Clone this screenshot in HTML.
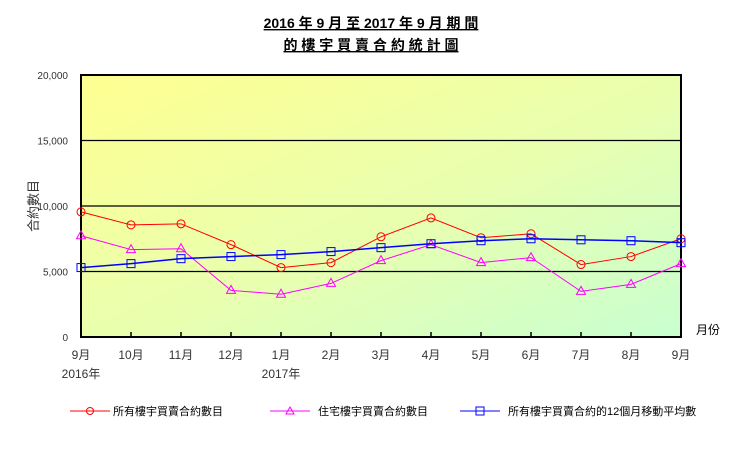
<!DOCTYPE html>
<html><head><meta charset="utf-8"><style>
body{margin:0;background:#fff;width:756px;height:453px;overflow:hidden;font-family:"Liberation Sans","Noto Sans CJK TC",sans-serif}
</style></head><body>
<svg width="756" height="453" style="position:absolute;left:0;top:0">
<defs><linearGradient id="bg" x1="0" y1="0" x2="1" y2="1">
<stop offset="0" stop-color="#ffff90"/><stop offset="0.55" stop-color="#e8ffb0"/><stop offset="1" stop-color="#c8ffd0"/></linearGradient></defs>
<text x="371" y="28" text-anchor="middle" font-size="14" font-weight="bold" text-decoration="underline" font-family="Liberation Sans,Noto Sans CJK TC,sans-serif">2016 年 9 月 至 2017 年 9 月 期 間</text>
<text x="371" y="50" text-anchor="middle" font-size="14" font-weight="bold" text-decoration="underline" font-family="Liberation Sans,Noto Sans CJK TC,sans-serif">的 樓 宇 買 賣 合 約 統 計 圖</text>
<rect x="81" y="75" width="600" height="262" fill="url(#bg)" stroke="#000" stroke-width="2"/>
<g id="grid"></g><g id="axes"></g><g id="series"></g>
<text transform="translate(38,206) rotate(-90)" text-anchor="middle" font-size="13" fill="#333">合約數目</text>
<text x="696" y="334" font-size="12">月份</text>
<g font-size="11">
<line x1="70" y1="411" x2="110" y2="411" stroke="red"/><circle cx="90" cy="411" r="3.5" fill="none" stroke="red"/>
<text x="113" y="415">所有樓宇買賣合約數目</text>
<line x1="270" y1="411" x2="310" y2="411" stroke="#f0f"/><path d="M290 407 L294 414 L286 414 Z" fill="none" stroke="#f0f"/>
<text x="318" y="415">住宅樓宇買賣合約數目</text>
<line x1="460" y1="411" x2="500" y2="411" stroke="#00f"/><rect x="476" y="407" width="8" height="8" fill="none" stroke="#00f"/>
<text x="508" y="415">所有樓宇買賣合約的12個月移動平均數</text>
</g>
</svg>
<script>
const categories=["9月","10月","11月","12月","1月","2月","3月","4月","5月","6月","7月","8月","9月"];
const yearLabels=["2016年","","","","2017年","","","","","","","",""];
const allContracts=[9550,8560,8640,7050,5300,5680,7650,9090,7580,7880,5530,6140,7500];
const residential=[7730,6670,6740,3560,3260,4090,5830,7050,5680,6060,3480,4020,5600];
const movingAvg=[5300,5600,5980,6140,6290,6520,6820,7120,7350,7500,7420,7350,7200];
const yTicks=[0,5000,10000,15000,20000];
const NS="http://www.w3.org/2000/svg";
const X0=81,X1=681,Y0=337,Y1=75,YMAX=20000;
const xs=i=>X0+i*(X1-X0)/(categories.length-1);
const ys=v=>Y0-v/YMAX*(Y0-Y1);
function mk(t,a,p){const e=document.createElementNS(NS,t);for(const k in a)e.setAttribute(k,a[k]);p.appendChild(e);return e;}
const grid=document.getElementById('grid'),axes=document.getElementById('axes'),ser=document.getElementById('series');
yTicks.forEach(v=>{
 if(v>0&&v<YMAX){const l=mk('line',{x1:X0,x2:X1,y1:ys(v),y2:ys(v),stroke:'#000','stroke-width':1.3},grid);
 
 }
 const t=mk('text',{x:68,y:ys(v)+4,'text-anchor':'end','font-size':10,fill:'#333'},axes);
 t.textContent=v.toLocaleString('en-US');
 
 
});
categories.forEach((c,i)=>{
 const tk=mk('line',{x1:xs(i),x2:xs(i),y1:Y0,y2:Y0-5,stroke:'#000','stroke-width':1.5},axes);
 
 
 const t=mk('text',{x:xs(i),y:359,'text-anchor':'middle','font-size':12,fill:'#333'},axes);
 t.textContent=c;
 
 
 if(yearLabels[i]){const y=mk('text',{x:xs(i),y:378,'text-anchor':'middle','font-size':12,fill:'#333'},axes);
 y.textContent=yearLabels[i];
 
 }
});
function series(data,color,shape,name,w){
 const pl=mk('polyline',{points:data.map((v,i)=>xs(i)+','+ys(v)).join(' '),fill:'none',stroke:color,'stroke-width':w},ser);
 
 
 data.forEach((v,i)=>{const x=xs(i),y=ys(v);let m;
  if(shape==='c')m=mk('circle',{cx:x,cy:y,r:4,fill:'none',stroke:color},ser);
  else if(shape==='t')m=mk('path',{d:`M${x} ${y-5}L${x+4.5} ${y+3}L${x-4.5} ${y+3}Z`,fill:'none',stroke:color},ser);
  else m=mk('rect',{x:x-4,y:y-4,width:8,height:8,fill:'none',stroke:color},ser);
  
  });
}
series(allContracts,'red','c','all-contracts',1);
series(residential,'#f0f','t','residential-contracts',1);
series(movingAvg,'#00f','s','moving-average',1.5);
</script>
</body></html>
